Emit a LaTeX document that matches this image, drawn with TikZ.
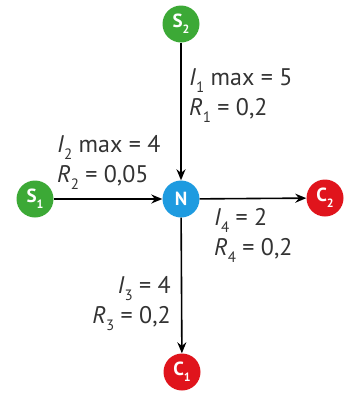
\documentclass[tikz,border=0pt]{standalone}
\usepackage{fontspec}
\setmainfont{PT Sans}
\usetikzlibrary{arrows.meta}
\definecolor{cgreen}{HTML}{3CA936}
\definecolor{cblue}{HTML}{1E9BE0}
\definecolor{cred}{HTML}{E0141C}
\newcommand\lbsub[1]{\raisebox{-0.32em}{\fontsize{15}{15}\selectfont #1}}
\newcommand\nsub[1]{\raisebox{-0.3em}{\fontsize{12}{12}\selectfont #1}}
\begin{document}
\begin{tikzpicture}[x=1pt,y=-1pt,
  dot/.style={circle,minimum size=37pt,inner sep=0pt,text=white,font=\bfseries\fontsize{19}{19}\selectfont},
  lab/.style={font=\fontsize{24}{30}\selectfont,text=black!80,inner sep=0pt,align=left},
  con/.style={line width=1.6pt,-{Stealth[length=11pt,width=9pt]}}]
\useasboundingbox (0,0) rectangle (350,394);
\node[dot,fill=cgreen] (S2) at (181,24) {S\nsub{2}};
\node[dot,fill=cblue] (N) at (181,199) {N};
\node[dot,fill=cgreen] (S1) at (35,199) {S\nsub{1}};
\node[dot,fill=cred] (C2) at (325,198) {C\nsub{2}};
\node[dot,fill=cred] (C1) at (182,372) {C\nsub{1}};
\draw[con] (S2) -- (N);
\draw[con] (S1) -- (N);
\draw[con] (N) -- (C2);
\draw[con] (N) -- (C1);
\node[lab,anchor=base west] (L1) at (189,115) {\textit{I}\lbsub{1} max = 5\\\textit{R}\lbsub{1} = 0,2};
\node[lab,anchor=base west] (L2) at (57,182) {\textit{I}\lbsub{2} max = 4\\\textit{R}\lbsub{2} = 0,05};
\node[lab,anchor=base west] (L4) at (214,255) {\textit{I}\lbsub{4} = 2\\\textit{R}\lbsub{4} = 0,2};
\node[lab,anchor=base east,align=right] (L3) at (171,323) {\textit{I}\lbsub{3} = 4\\\textit{R}\lbsub{3} = 0,2};
\end{tikzpicture}
\end{document}
